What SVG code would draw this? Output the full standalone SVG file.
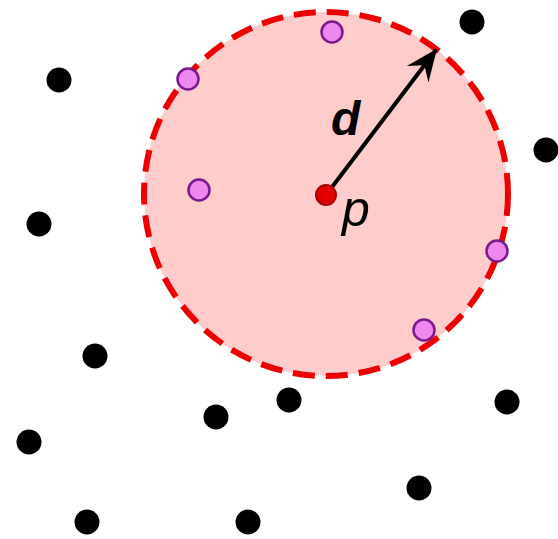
<svg xmlns="http://www.w3.org/2000/svg" width="558" height="539" viewBox="0 0 558 539">
<style>
.pt{fill:#000}
.in{fill:#ee88ee;stroke:#7a1a8a;stroke-width:2.5}
.lbl{font-family:"Liberation Sans",Arial,sans-serif;fill:#000}
</style>
<defs>
<marker id="ah" viewBox="0 0 20 20" refX="19" refY="10" markerWidth="8" markerHeight="8" markerUnits="strokeWidth" orient="auto">
<path d="M0,1.5 L20,10 L0,18.5 L7,10 Z" fill="#000"/>
</marker>
</defs>
<rect width="558" height="539" fill="#fff"/>
<g id="region">
<circle cx="326" cy="194" r="182" fill="#ffcccc" stroke="#ee0000" stroke-width="6" stroke-dasharray="22 11"/>
</g>
<g id="connectors">
<line x1="326" y1="195" x2="436" y2="50" stroke="#000" stroke-width="4" marker-end="url(#ah)"/>
</g>
<g id="points">
<circle class="pt" cx="472" cy="22" r="12.5"/>
<circle class="pt" cx="59" cy="80" r="12.5"/>
<circle class="pt" cx="546" cy="150" r="12.5"/>
<circle class="pt" cx="39" cy="224" r="12.5"/>
<circle class="pt" cx="95" cy="356" r="12.5"/>
<circle class="pt" cx="216" cy="417" r="12.5"/>
<circle class="pt" cx="289" cy="400" r="12.5"/>
<circle class="pt" cx="507" cy="402" r="12.5"/>
<circle class="pt" cx="29" cy="442" r="12.5"/>
<circle class="pt" cx="419" cy="488" r="12.5"/>
<circle class="pt" cx="87" cy="522" r="12.5"/>
<circle class="pt" cx="248" cy="522" r="12.5"/>
</g>
<g id="neighbors">
<circle class="in" cx="332" cy="32" r="10.5"/>
<circle class="in" cx="188" cy="79" r="10.5"/>
<circle class="in" cx="199" cy="190" r="10.5"/>
<circle class="in" cx="497" cy="251" r="10.5"/>
<circle class="in" cx="424" cy="330" r="10.5"/>
</g>
<g id="p">
<circle cx="326" cy="195" r="10" fill="#e00000" stroke="#aa0000" stroke-width="2"/>
<text class="lbl" x="342" y="226" font-size="50" font-style="italic">p</text>
</g>
<g id="dlabel">
<text class="lbl" x="331" y="135" font-size="48" font-style="italic" font-weight="bold">d</text>
</g>
</svg>
